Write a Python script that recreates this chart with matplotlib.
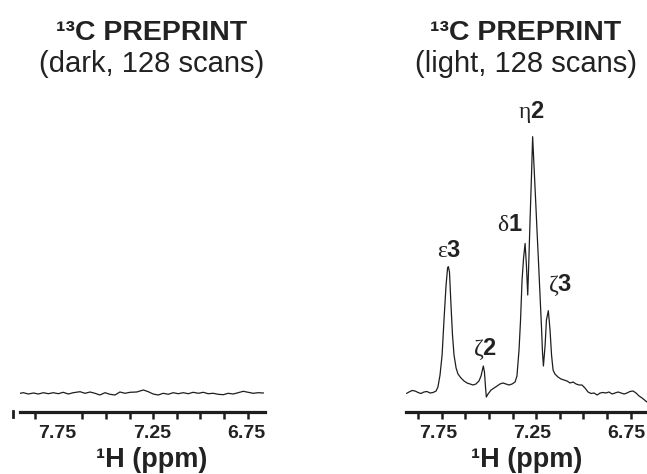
import matplotlib
matplotlib.use('Agg')
import matplotlib.pyplot as plt
from matplotlib.lines import Line2D
from matplotlib.transforms import ScaledTranslation

plt.rcParams['font.family'] = ['Liberation Sans', 'DejaVu Sans']
plt.rcParams['mathtext.fontset'] = 'custom'
plt.rcParams['mathtext.rm'] = 'Liberation Serif'
plt.rcParams['mathtext.bf'] = 'Liberation Sans:bold'

# dark spectrum (ppm, intensity a.u.)
dark_ppm = [7.955, 7.937, 7.911, 7.884, 7.858, 7.831, 7.805, 7.779, 7.752, 7.726,
            7.699, 7.673, 7.637, 7.611, 7.584, 7.558, 7.532, 7.505, 7.479, 7.452,
            7.426, 7.399, 7.373, 7.337, 7.302, 7.276, 7.250, 7.223, 7.197, 7.170,
            7.144, 7.117, 7.091, 7.064, 7.038, 7.011, 6.985, 6.959, 6.932, 6.906,
            6.879, 6.853, 6.826, 6.800, 6.773, 6.747, 6.720, 6.694, 6.667]
dark_int = [18.7, 19.3, 18.0, 19.0, 18.0, 19.3, 18.3, 19.3, 18.3, 19.7,
            18.0, 19.3, 20.3, 18.7, 20.0, 18.7, 17.0, 19.3, 17.7, 17.0,
            20.0, 18.7, 19.7, 20.0, 22.0, 20.3, 18.0, 17.0, 18.7, 17.7,
            19.3, 18.3, 19.3, 18.3, 19.7, 18.7, 19.7, 18.3, 18.7, 17.7,
            17.3, 18.7, 18.0, 19.3, 20.7, 19.7, 18.7, 19.3, 19.0]

# light spectrum (ppm, intensity a.u.)
light_ppm = [7.935, 7.923, 7.907, 7.891, 7.875, 7.860, 7.844, 7.828, 7.812, 7.796,
             7.780, 7.770, 7.759, 7.748, 7.738, 7.727, 7.719, 7.715, 7.709, 7.701,
             7.693, 7.685, 7.674, 7.664, 7.648, 7.632, 7.616, 7.600, 7.584, 7.569,
             7.553, 7.542, 7.530, 7.524, 7.518, 7.514, 7.505, 7.489, 7.473, 7.457,
             7.442, 7.426, 7.410, 7.394, 7.378, 7.362, 7.352, 7.341, 7.333, 7.325,
             7.317, 7.309, 7.302, 7.295, 7.289, 7.283, 7.275, 7.269, 7.262, 7.254,
             7.246, 7.238, 7.230, 7.222, 7.217, 7.212, 7.203, 7.196, 7.186, 7.177,
             7.169, 7.161, 7.151, 7.135, 7.119, 7.103, 7.087, 7.071, 7.055, 7.039,
             7.024, 7.008, 6.992, 6.976, 6.960, 6.944, 6.928, 6.912, 6.897, 6.881,
             6.865, 6.849, 6.833, 6.817, 6.801, 6.785, 6.770, 6.754, 6.738, 6.722,
             6.706, 6.690, 6.674, 6.664]
light_int = [18.7, 20.0, 21.5, 21.0, 19.5, 18.5, 20.0, 20.5, 19.0, 19.5,
             21.0, 25.0, 37.0, 57.0, 92.0, 127.0, 144.0, 145.3, 140.0, 107.0,
             77.0, 57.0, 44.0, 38.0, 34.0, 31.0, 29.0, 28.0, 27.0, 28.0,
             31.0, 36.0, 46.0, 40.0, 24.0, 15.0, 18.0, 22.0, 24.0, 26.0,
             28.0, 29.0, 28.0, 27.0, 28.0, 30.0, 36.0, 62.0, 92.0, 132.0,
             154.0, 168.5, 147.0, 117.0, 152.0, 190.0, 237.0, 275.3, 247.0, 215.0,
             182.0, 150.0, 117.0, 84.0, 60.0, 46.0, 67.0, 92.0, 101.3, 82.0,
             57.0, 42.0, 38.0, 35.0, 33.0, 32.0, 31.0, 29.0, 30.0, 28.0,
             27.0, 27.0, 24.0, 20.0, 18.5, 19.0, 17.0, 19.0, 19.5, 19.0,
             20.0, 18.0, 19.0, 20.0, 19.0, 18.0, 19.0, 20.5, 21.0, 19.0,
             16.0, 14.0, 11.5, 10.0]

peak_names = ['ε', 'ζ', 'δ', 'η', 'ζ']
peak_nums = ['3', '2', '1', '2', '3']
peak_ppm = [7.711, 7.521, 7.389, 7.278, 7.124]
peak_int = [161, 63, 187, 300, 127]

tick_ppm = [7.875, 7.75, 7.625, 7.5, 7.375, 7.25, 7.125, 7.0, 6.875, 6.75]
tick_labels = ['', '7.75', '', '', '', '7.25', '', '', '', '6.75']

LINE = '#1e1e1e'
TEXT = '#222222'


def style_axis(ax, xlim, shift_px):
    ax.set_xlim(xlim)
    ax.set_ylim(0, 312)
    for side in ['top', 'left', 'right']:
        ax.spines[side].set_visible(False)
    ax.spines['bottom'].set_linewidth(2.3)
    ax.spines['bottom'].set_color(LINE)
    ax.set_yticks([])
    ax.set_xticks(tick_ppm)
    ax.set_xticklabels(tick_labels, fontsize=14, fontweight='bold', color=TEXT)
    ax.tick_params(axis='x', direction='out', length=5, width=1.8, pad=4, color=LINE)
    ax.patch.set_visible(False)
    # labels sit a little left of their ticks in the original
    offset = ScaledTranslation(shift_px / 100, 0, ax.figure.dpi_scale_trans)
    for lab in ax.get_xticklabels():
        lab.set_transform(lab.get_transform() + offset)


def main():
    fig = plt.figure(figsize=(6.47, 4.74), dpi=100)

    ax1 = fig.add_axes([20 / 647, 62 / 474, 245 / 647, 312 / 474])
    ax2 = fig.add_axes([406 / 647, 62 / 474, 241 / 647, 312 / 474])

    ax1.plot(dark_ppm, dark_int, color=LINE, lw=0.9)
    ax2.plot(light_ppm, light_int, color=LINE, lw=0.9)

    style_axis(ax1, (7.955, 6.658), -1.5)
    style_axis(ax2, (7.939, 6.664), -4.0)
    # the 7.75 tick mark is absent on the dark panel
    ax1.xaxis.get_major_ticks()[1].tick1line.set_visible(False)

    for name, num, x, y in zip(peak_names, peak_nums, peak_ppm, peak_int):
        ax2.text(x, y, r'$\mathrm{%s}\mathbf{%s}$' % (name, num), fontsize=17,
                 ha='center', va='center', color=TEXT, clip_on=False)

    # titles and axis labels
    for cx, cond in [(152, 'dark'), (526, 'light')]:
        fig.text(cx / 647, 1 - 40 / 474, '¹³C PREPRINT', fontsize=20.5,
                 fontweight='bold', ha='center', va='baseline', color=TEXT)
        fig.text(cx / 647, 1 - 72 / 474, '(%s, 128 scans)' % cond, fontsize=21,
                 ha='center', va='baseline', color=TEXT)
    for cx in [152, 527]:
        fig.text(cx / 647, 1 - 467 / 474, '¹H (ppm)', fontsize=19.5,
                 fontweight='bold', ha='center', va='baseline', color=TEXT)

    # small stray mark left of the dark axis
    fig.add_artist(Line2D([13 / 647, 13 / 647], [1 - 411 / 474, 1 - 417 / 474],
                          color=LINE, lw=2))

    fig.savefig('out.png', dpi=100)


if __name__ == "__main__":
    main()
